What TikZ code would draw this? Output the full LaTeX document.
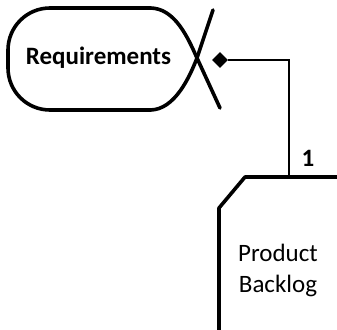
\documentclass[tikz,border=0pt]{standalone}
\usepackage{fontspec}
\setmainfont{Carlito}
\usetikzlibrary{shapes.geometric}
\begin{document}
\begin{tikzpicture}[x=1pt,y=-1pt,
  outline/.style={line width=3.6pt,line cap=round,line join=round},
  conn/.style={line width=1.3pt},
  lbl/.style={font=\fontsize{25}{31}\selectfont,inner sep=0pt,align=center}]
\useasboundingbox (0,0) rectangle (337,329);
% Requirements shape
\draw[outline,rounded corners=42] (151,110) -- (8,110) -- (8,8) -- (151,8);
\draw[outline] (213,10) -- (197,58) .. controls (190,76) and (175,110) .. (150,110);
\draw[outline] (150,8) .. controls (175,8) and (188,38) .. (197,58) -- (220,108);
\node[lbl,font=\fontsize{25}{31}\selectfont\bfseries] (req) at (98.5,58) {Requirements};
% Product Backlog shape
\draw[outline] (345,177) -- (245,177) -- (219,208) -- (219,340);
\coordinate (pbtop) at (289,177);
\node[lbl] (pb) at (278,270) {Product\\Backlog};
% connector
\node[diamond,fill=black,inner sep=0pt,minimum width=16pt,minimum height=16pt] (dia) at (220,60) {};
\draw[conn] (dia.east) -| (pbtop);
\node[lbl,font=\fontsize{25}{31}\selectfont\bfseries] (one) at (308,158) {1};
\end{tikzpicture}
\end{document}
